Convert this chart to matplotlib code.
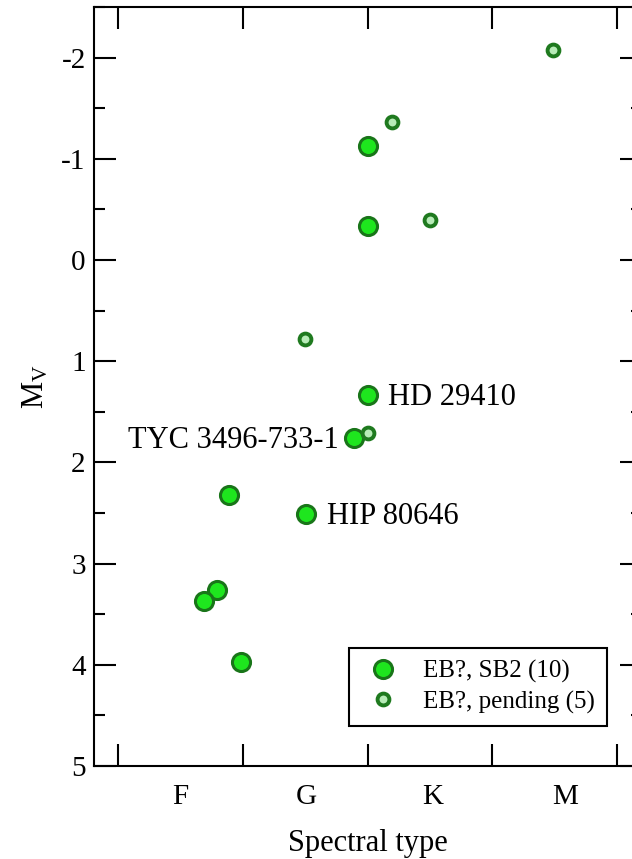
import matplotlib
matplotlib.use("Agg")
import matplotlib.pyplot as plt
from matplotlib.ticker import FixedLocator, MultipleLocator, NullFormatter

plt.rcParams['font.family'] = ['Liberation Serif', 'DejaVu Serif']
plt.rcParams['mathtext.default'] = 'regular'
plt.rcParams['axes.unicode_minus'] = False

# spectral type on a numeric scale: F = 10-20, G = 20-30, K = 30-40, M = 40-50
sb2_sp = [30.0, 30.0, 30.0, 28.9, 25.1, 18.9, 17.9, 16.9, 19.9]
sb2_mv = [-1.13, -0.34, 1.33, 1.76, 2.51, 2.32, 3.26, 3.37, 3.97]
pending_sp = [44.9, 32.0, 35.0, 25.0, 30.0]
pending_mv = [-2.08, -1.36, -0.40, 0.78, 1.71]

# labelled stars: index into the SB2 arrays and which side the text sits on
names = ["HD 29410", "TYC 3496-733-1", "HIP 80646"]
name_idx = [2, 3, 4]
name_side = ["left", "right", "left"]

type_edges = [10, 20, 30, 40, 50]
type_pos = [15, 25.1, 35.2, 45.8]
type_labels = ["F", "G", "K", "M"]

W, H = 632, 859
fig = plt.figure(figsize=(W / 100, H / 100), dpi=100)
# right edge of the frame lies just outside the picture, as in the original
ax = fig.add_axes([94 / W, (H - 766) / H, 548 / W, 759 / H])

big, = ax.plot(sb2_sp, sb2_mv, 'o', ms=13, mfc='#1ee61e', mec='#197519',
               mew=2.2, label='EB?, SB2 (10)', zorder=3)
small, = ax.plot(pending_sp, pending_mv, 'o', ms=8.5, mfc='#b8ecb8',
                 mec='#1f7a1f', mew=2.8, label='EB?, pending (5)', zorder=3)

for name, i, side in zip(names, name_idx, name_side):
    dx = 15 if side == "left" else -11
    ax.annotate(name, (sb2_sp[i], sb2_mv[i]), xytext=(dx, -2),
                textcoords='offset points', ha=side, va='center',
                fontsize=22)

ax.set_xlim(8.08, 52.0)
ax.set_ylim(5, -2.5)

ax.xaxis.set_major_locator(FixedLocator(type_edges))
ax.xaxis.set_major_formatter(NullFormatter())
ax.xaxis.set_minor_locator(FixedLocator(type_pos))
ax.set_xticklabels(type_labels, minor=True)
ax.yaxis.set_major_locator(MultipleLocator(1))
ax.yaxis.set_minor_locator(MultipleLocator(0.5))

ax.tick_params(axis='both', which='both', direction='in', width=1.5,
               top=True, right=True, labelsize=21)
ax.tick_params(axis='both', which='major', length=16)
ax.tick_params(axis='y', which='minor', length=8)
ax.tick_params(axis='x', which='minor', length=0, pad=13)
ax.tick_params(axis='y', which='major', pad=6)
for s in ax.spines.values():
    s.set_linewidth(1.5)

ax.set_xlabel('Spectral type', fontsize=22, labelpad=14)
ax.set_ylabel(r'$M_V$', fontsize=22, labelpad=8)

leg = ax.legend(handles=[big, small], loc='lower right',
                bbox_to_anchor=(607 / W, (H - 726) / H),
                bbox_transform=fig.transFigure, borderaxespad=0,
                fontsize=18, fancybox=False, framealpha=1, edgecolor='black',
                handlelength=1.75, handletextpad=0.7, labelspacing=0.29,
                borderpad=0.5)
leg.get_frame().set_linewidth(1.5)

fig.savefig('out.png', dpi=100)
